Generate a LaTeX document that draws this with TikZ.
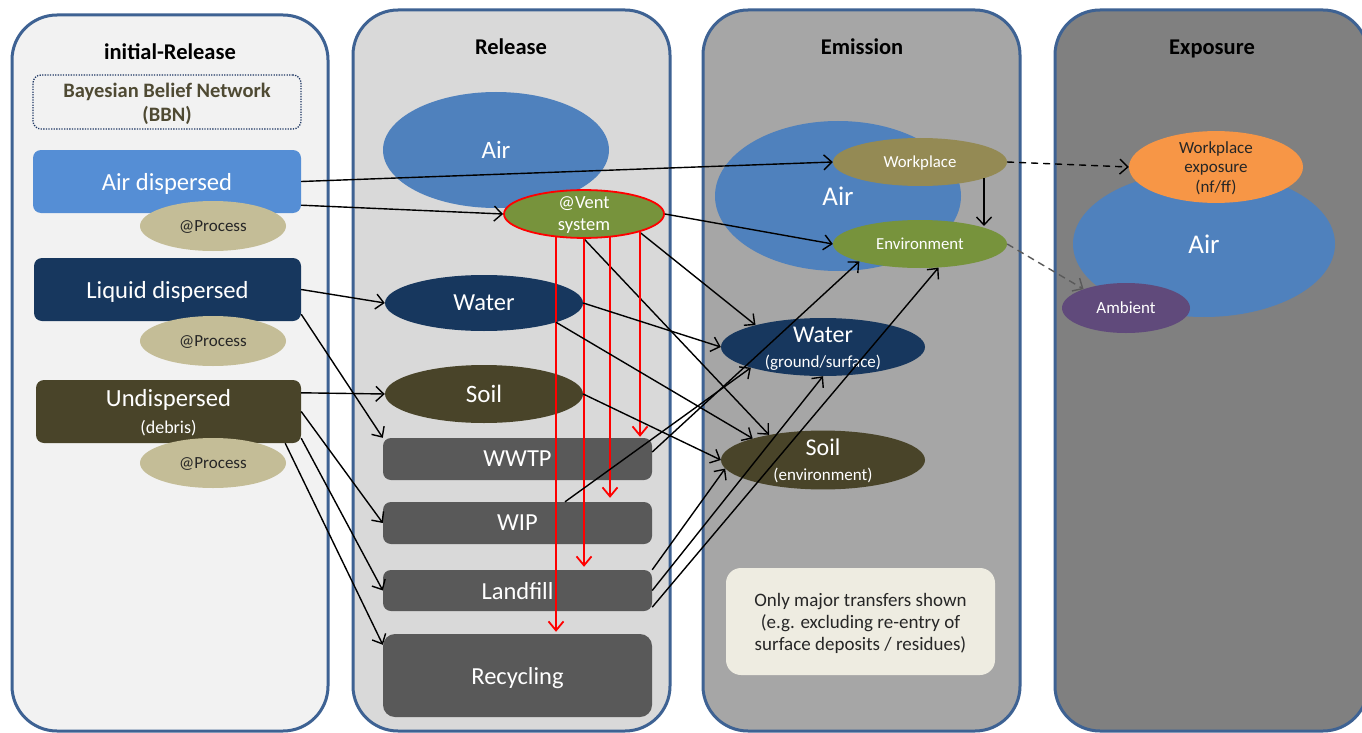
\documentclass[tikz,border=0pt]{standalone}
\usepackage{fontspec}
\setmainfont{Carlito}
\usetikzlibrary{shapes.geometric,arrows.meta,calc}

\definecolor{frameblue}{HTML}{3E6293}
\definecolor{panelA}{HTML}{F2F2F2}
\definecolor{panelB}{HTML}{D9D9D9}
\definecolor{panelC}{HTML}{A6A6A6}
\definecolor{panelD}{HTML}{808080}
\definecolor{airlight}{HTML}{558ED5}
\definecolor{airblue}{HTML}{4F81BD}
\definecolor{cNavy}{HTML}{17375E}
\definecolor{cOlive}{HTML}{494429}
\definecolor{cKhaki}{HTML}{C4BD97}
\definecolor{cLeaf}{HTML}{77933C}
\definecolor{cTan}{HTML}{948A54}
\definecolor{cSlate}{HTML}{595959}
\definecolor{cCream}{HTML}{EEECE1}
\definecolor{cAmber}{HTML}{F79646}
\definecolor{cPlum}{HTML}{604A7B}
\definecolor{bbntext}{HTML}{4F4A33}
\definecolor{bbnline}{HTML}{1F3864}
\definecolor{dashgray}{HTML}{5A5A5A}
\definecolor{darktext}{HTML}{262626}

\newcommand\fsz[2]{\fontsize{#1}{#2}\selectfont}

\begin{document}
\begin{tikzpicture}[x=1pt,y=-1pt,
  panel/.style={draw=frameblue, line width=3pt, rounded corners=45pt},
  title/.style={font=\bfseries\fsz{22.5}{26}, anchor=base, inner sep=0pt},
  box/.style={rectangle, rounded corners=8pt, inner sep=0pt, text=white, align=center, text depth=0pt},
  oval/.style={ellipse, inner sep=0pt, align=center, text=white, text depth=0pt},
  link/.style={line width=1.4pt, -{Straight Barb[length=8pt,width=15pt,line width=1.4pt]}},
  vlink/.style={draw=red, line width=1.8pt, -{Straight Barb[length=9pt,width=15pt,line width=1.8pt]}},
  dlink/.style={link, dash pattern=on 7pt off 5pt},
]
\clip (0,0) rectangle (1362,733);
\fill[white] (0,0) rectangle (1362,733);

% stage panels
\draw[panel, fill=panelA] (12,15) rectangle (328,731);
\draw[panel, fill=panelB] (353,10) rectangle (670,731);
\draw[panel, fill=panelC] (703,10) rectangle (1020,731);
\draw[panel, fill=panelD] (1055,10) rectangle (1368,731);

\node[title] (t1) at (170,60) {initial-Release};
\node[title] (t2) at (511,55) {Release};
\node[title] (t3) at (862,55) {Emission};
\node[title] (t4) at (1212,55) {Exposure};

% initial release
\node[draw=bbnline, dash pattern=on 1.3pt off 1.3pt, line width=1.3pt, rounded corners=8pt,
      minimum width=268pt, minimum height=54pt, inner sep=0pt, text=bbntext, text depth=0pt,
      font=\bfseries\fsz{20.5}{24}, align=center] (bbn) at (167,102) {Bayesian Belief Network\\(BBN)};
\node[box, fill=airlight, minimum width=268pt, minimum height=63pt, font=\fsz{24.6}{28}] (airD) at (167,181.5) {Air dispersed};
\node[oval, fill=cKhaki, text=darktext, minimum width=146pt, minimum height=50pt, font=\fsz{17}{20}] (proc1) at (213,226) {@Process};
\node[box, fill=cNavy, minimum width=267pt, minimum height=63pt, font=\fsz{24.6}{28}] (liqD) at (167.5,289.5) {Liquid dispersed};
\node[oval, fill=cKhaki, text=darktext, minimum width=146pt, minimum height=50pt, font=\fsz{17}{20}] (proc2) at (213,341) {@Process};
\node[box, fill=cOlive, minimum width=265pt, minimum height=63pt, font=\fsz{18}{27}] (undD) at (168.5,411.5)
  {\fsz{24.6}{27}Undispersed\\\fsz{18}{27}(debris)};
\node[oval, fill=cKhaki, text=darktext, minimum width=146pt, minimum height=50pt, font=\fsz{17}{20}] (proc3) at (213,463) {@Process};

% release
\node[oval, fill=airblue, minimum width=226pt, minimum height=116pt, font=\fsz{25}{28}] (relAir) at (496,150) {Air};
\node[oval, fill=cLeaf, draw=red, line width=1.8pt, minimum width=160pt, minimum height=46pt, font=\fsz{18.5}{22}] (vent) at (584,214) {@Vent\\system};
\node[oval, fill=cNavy, minimum width=198pt, minimum height=56pt, font=\fsz{24.5}{28}] (relWater) at (484,303) {Water};
\node[oval, fill=cOlive, minimum width=198pt, minimum height=58pt, font=\fsz{25}{28}] (relSoil) at (484,394) {Soil};
\node[box, fill=cSlate, minimum width=269pt, minimum height=42pt, font=\fsz{24.5}{28}] (wwtp) at (517.5,459) {WWTP};
\node[box, fill=cSlate, minimum width=269pt, minimum height=42pt, font=\fsz{24.5}{28}] (wip) at (517.5,523) {WIP};
\node[box, fill=cSlate, minimum width=269pt, minimum height=41pt, font=\fsz{24.5}{28}] (landfill) at (517.5,590.5) {Landfill};
\node[box, fill=cSlate, rounded corners=12pt, minimum width=269pt, minimum height=83pt, font=\fsz{24.5}{28}] (recyc) at (517.5,675.5) {Recycling};

% emission
\node[oval, fill=airblue, minimum width=246pt, minimum height=150pt, font=\fsz{27}{30}] (emAir) at (838,196) {Air};
\node[oval, fill=cTan, minimum width=174pt, minimum height=48pt, font=\fsz{16.8}{20}] (workpl) at (920,162) {Workplace};
\node[oval, fill=cLeaf, minimum width=174pt, minimum height=48pt, font=\fsz{16.8}{20}] (envir) at (920,244) {Environment};
\node[oval, fill=cNavy, minimum width=204pt, minimum height=58pt, font=\fsz{17}{25}] (emWater) at (823,347)
  {\fsz{24}{25}Water\\\fsz{17}{25}(ground/surface)};
\node[oval, fill=cOlive, minimum width=204pt, minimum height=58pt, font=\fsz{17}{25}] (emSoil) at (823,460)
  {\fsz{24}{25}Soil\\\fsz{17}{25}(environment)};
\node[box, fill=cCream, text=darktext, rounded corners=15pt, minimum width=269pt, minimum height=107pt, font=\fsz{19}{22}] (note) at (860.5,621.5)
  {Only major transfers shown\\(e.g. excluding re-entry of\\surface deposits / residues)};

% exposure
\node[oval, fill=airblue, minimum width=262pt, minimum height=146pt, font=\fsz{27}{30}] (exAir) at (1204,244) {Air};
\node[oval, fill=cAmber, text=darktext, minimum width=174pt, minimum height=66pt, font=\fsz{17}{19.5}] (wpExp) at (1216,167) {Workplace\\exposure\\(nf/ff)};
\node[oval, fill=cPlum, minimum width=128pt, minimum height=50pt, font=\fsz{17}{20}] (ambient) at (1126,308) {Ambient};

% transfers out of the initial release
\draw[link] (airD.east) -- (workpl.west);
\draw[link] ($(airD.south east)+(0,-8)$) -- (vent.west);
\draw[link] (liqD.east) -- (relWater.west);
\draw[link] ($(liqD.south east)+(0,-7)$) -- (wwtp.north west);
\draw[link] ($(undD.north east)+(0,13)$) -- (relSoil.west);
\draw[link] (undD.east) -- (wip.west);
\draw[link] ($(undD.south east)+(0,-5)$) -- (landfill.west);
\draw[link] ($(undD.south east)+(-16,0)$) -- ($(recyc.north west)+(0,11)$);

% vent system
\draw[link] (vent.east) -- (envir.west);
\draw[link] (vent.-18) -- (emWater.162);
\draw[link] (vent.south) -- (emSoil.155);
\coordinate (v1) at ($(vent.center)+(-28,22)$);
\coordinate (v2) at ($(vent.center)+(0,23)$);
\coordinate (v3) at ($(vent.center)+(26,22)$);
\coordinate (v4) at ($(vent.center)+(56,16.5)$);
\draw[vlink] (v1) -- ($(v1 |- recyc.north)+(0,-2)$);
\draw[vlink] (v2) -- ($(v2 |- landfill.north)+(0,-3)$);
\draw[vlink] (v3) -- ($(v3 |- wip.north)+(0,-4)$);
\draw[vlink] (v4) -- ($(v4 |- wwtp.north)+(0,-1)$);

% release to emission
\draw[link] (relWater.east) -- (emWater.west);
\draw[link] (relWater.-15) -- (emSoil.163);
\draw[link] (relSoil.east) -- (emSoil.west);
\draw[link] ($(wwtp.east)+(0,-7)$) -- (envir.196);
\draw[link] ($(wip.north)+(47.5,0)$) -- (emWater.196);
\draw[link] (landfill.north east) -- (emSoil.185);
\draw[link] (landfill.east) -- (emWater.south);
\draw[link] ($(landfill.south east)+(0,-4)$) -- (envir.-52);

% emission to exposure
\draw[link] ($(workpl.center)+(64,16)$) -- ($(envir.center)+(64,-18)$);
\draw[dlink] (workpl.east) -- (wpExp.west);
\draw[dlink, draw=dashgray] (envir.east) -- (ambient.156);
\end{tikzpicture}
\end{document}
